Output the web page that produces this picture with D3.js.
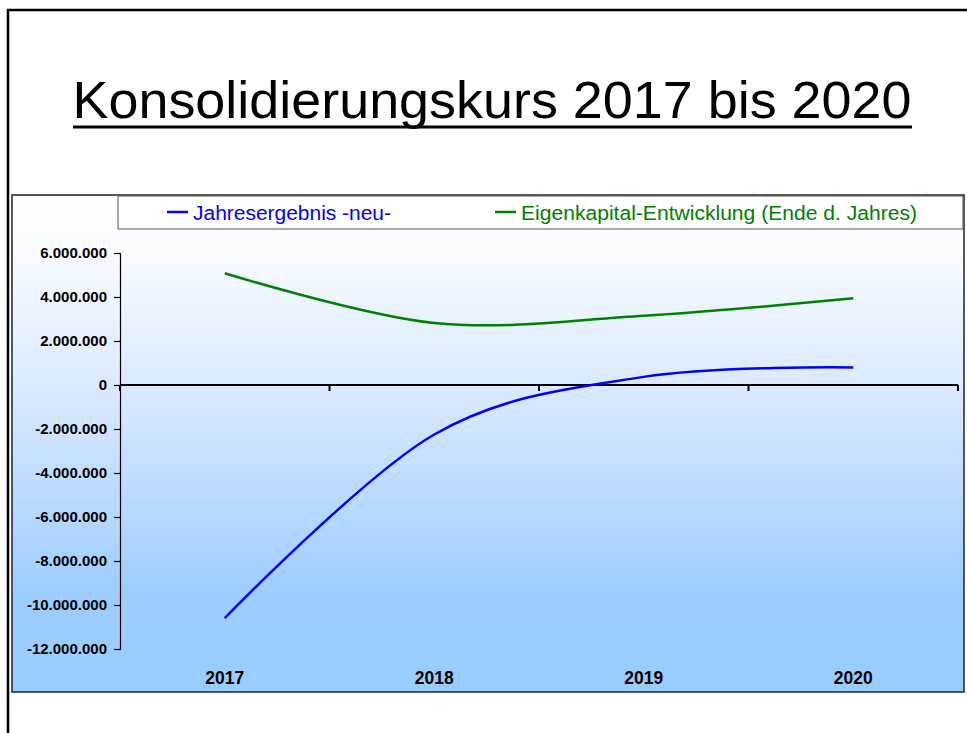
<!DOCTYPE html>
<html>
<head>
<meta charset="utf-8">
<script src="https://d3js.org/d3.v7.min.js"></script>
<style>
  body { margin: 0; background: #fff; }
  svg { display: block; font-family: "Liberation Sans", Arial, sans-serif; }
</style>
</head>
<body>
<div id="chart"></div>
<script>
// Data
const years = ["2017", "2018", "2019", "2020"];
const jahresergebnis = [-10600000, -2250000, 370000, 800000];
const eigenkapital = [5080000, 2820000, 3150000, 3940000];
const yTicks = [6000000, 4000000, 2000000, 0, -2000000, -4000000, -6000000, -8000000, -10000000, -12000000];

const seriesNames = ["Jahresergebnis -neu-", "Eigenkapital-Entwicklung (Ende d. Jahres)"];
const seriesColors = ["#0000ff", "#008000"];

// Layout
const width = 967;
const height = 733;
const frame = { x: 12, y: 195, w: 952, h: 497 };
const plot = { left: 120, right: 958, top: 253, bottom: 649 };

const svg = d3.select("#chart").append("svg")
    .attr("width", width)
    .attr("height", height);

// Slide border
svg.append("path")
    .attr("d", `M8,${height} L8,10 L${width + 5},10`)
    .attr("fill", "none")
    .attr("stroke", "#000")
    .attr("stroke-width", 2.5);

// Title
const title = svg.append("text")
    .attr("x", 492)
    .attr("y", 118)
    .attr("text-anchor", "middle")
    .style("font-size", "52px")
    .attr("textLength", 839)
    .attr("lengthAdjust", "spacingAndGlyphs")
    .style("fill", "#000")
    .text("Konsolidierungskurs 2017 bis 2020");

svg.append("line")
    .attr("x1", 73).attr("x2", 912)
    .attr("y1", 127).attr("y2", 127)
    .attr("stroke", "#000")
    .attr("stroke-width", 3);

// Gradient background
const defs = svg.append("defs");
const grad = defs.append("linearGradient")
    .attr("id", "bg")
    .attr("x1", 0).attr("y1", 0).attr("x2", 0).attr("y2", 1);
grad.append("stop").attr("offset", "0%").attr("stop-color", "#ffffff");
grad.append("stop").attr("offset", "12%").attr("stop-color", "#f8fbff");
grad.append("stop").attr("offset", "45%").attr("stop-color", "#d2e5ff");
grad.append("stop").attr("offset", "80%").attr("stop-color", "#9dcdff");
grad.append("stop").attr("offset", "100%").attr("stop-color", "#99ccff");

svg.append("rect")
    .attr("x", frame.x).attr("y", frame.y)
    .attr("width", frame.w).attr("height", frame.h)
    .attr("fill", "url(#bg)")
    .attr("stroke", "#222")
    .attr("stroke-width", 1.5);

// Legend box
const legend = svg.append("g");
legend.append("rect")
    .attr("x", 118).attr("y", 196)
    .attr("width", frame.x + frame.w - 118 - 1).attr("height", 33)
    .attr("fill", "#fff")
    .attr("stroke", "#555")
    .attr("stroke-width", 1);

const legendX = [167, 495];
const legendLen = [198, 396];
seriesNames.forEach((name, i) => {
    legend.append("line")
        .attr("x1", legendX[i]).attr("x2", legendX[i] + 21)
        .attr("y1", 212).attr("y2", 212)
        .attr("stroke", seriesColors[i])
        .attr("stroke-width", 2.5);
    legend.append("text")
        .attr("x", legendX[i] + 26)
        .attr("y", 220)
        .style("font-size", "20px")
        .attr("textLength", legendLen[i])
        .attr("lengthAdjust", "spacingAndGlyphs")
        .style("fill", seriesColors[i])
        .text(name);
});

// Scales
const x = d3.scaleBand().domain(years).range([plot.left, plot.right]);
const y = d3.scaleLinear().domain([-12000000, 6000000]).range([plot.bottom, plot.top]);

const de = d3.formatLocale({ decimal: ",", thousands: ".", grouping: [3], currency: ["", " €"], minus: "-" });
const fmt = de.format(",.0f");

// Y axis
const yAxis = svg.append("g")
    .attr("transform", `translate(${plot.left},0)`)
    .call(d3.axisLeft(y).tickValues(yTicks).tickFormat(fmt).tickSize(6).tickPadding(7));
yAxis.select(".domain").attr("stroke", "#000").attr("stroke-width", 1.2);
yAxis.selectAll(".tick line").attr("stroke", "#000").attr("stroke-width", 1.2);
yAxis.selectAll(".tick text")
    .style("font-size", "15px")
    .style("font-weight", "bold")
    .style("font-family", "'Liberation Sans', Arial, sans-serif")
    .attr("fill", "#000");

// X axis at zero
const xAxis = svg.append("g")
    .attr("transform", `translate(0,${y(0)})`);
xAxis.append("line")
    .attr("x1", plot.left).attr("x2", plot.right)
    .attr("stroke", "#000")
    .attr("stroke-width", 2.2);
const bounds = years.map(d => x(d)).concat([plot.right]);
xAxis.selectAll("line.tick")
    .data(bounds)
    .enter()
    .append("line")
    .attr("class", "tick")
    .attr("x1", d => d).attr("x2", d => d)
    .attr("y1", 0).attr("y2", 6)
    .attr("stroke", "#000")
    .attr("stroke-width", 2);

// Category labels
svg.append("g").selectAll("text")
    .data(years)
    .enter()
    .append("text")
    .attr("x", d => x(d) + x.bandwidth() / 2)
    .attr("y", 684)
    .attr("text-anchor", "middle")
    .style("font-size", "17.5px")
    .style("font-weight", "bold")
    .style("fill", "#000")
    .text(d => d);

// Lines
const line = d3.line()
    .x((d, i) => x(years[i]) + x.bandwidth() / 2)
    .y(d => y(d))
    .curve(d3.curveCardinal.tension(0));

[jahresergebnis, eigenkapital].forEach((series, i) => {
    svg.append("path")
        .datum(series)
        .attr("d", line)
        .attr("fill", "none")
        .attr("stroke", seriesColors[i])
        .attr("stroke-width", 2.5);
});
</script>
</body>
</html>
